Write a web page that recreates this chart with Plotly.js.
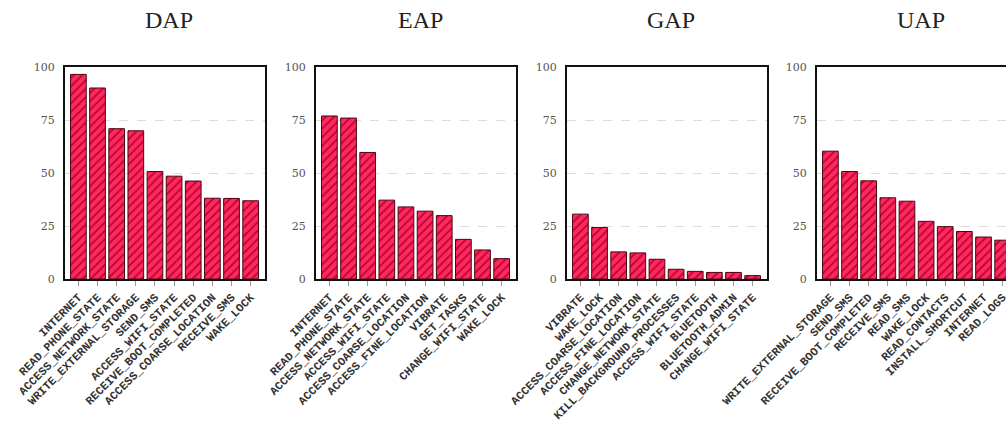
<!DOCTYPE html>
<html>
<head>
<meta charset="utf-8">
<script src="https://cdn.plot.ly/plotly-3.0.1.min.js"></script>
<style>
html,body{margin:0;padding:0;overflow:hidden;background:#fff;}
#chart{width:1040px;height:435px;}
</style>
</head>
<body>
<div id="chart"></div>
<script>
// ---- data ----
const panelTitles = ["DAP", "EAP", "GAP", "UAP"];

const dapLabels = ["INTERNET", "READ_PHONE_STATE", "ACCESS_NETWORK_STATE", "WRITE_EXTERNAL_STORAGE", "SEND_SMS", "ACCESS_WIFI_STATE", "RECEIVE_BOOT_COMPLETED", "ACCESS_COARSE_LOCATION", "RECEIVE_SMS", "WAKE_LOCK"];
const dapValues = [96.5, 90.1, 70.9, 69.9, 50.7, 48.5, 46.2, 38.1, 38.0, 36.9];

const eapLabels = ["INTERNET", "READ_PHONE_STATE", "ACCESS_NETWORK_STATE", "ACCESS_WIFI_STATE", "ACCESS_COARSE_LOCATION", "ACCESS_FINE_LOCATION", "VIBRATE", "GET_TASKS", "CHANGE_WIFI_STATE", "WAKE_LOCK"];
const eapValues = [76.9, 75.9, 59.7, 37.2, 34.0, 32.0, 29.9, 18.7, 13.7, 9.6];

const gapLabels = ["VIBRATE", "WAKE_LOCK", "ACCESS_COARSE_LOCATION", "ACCESS_FINE_LOCATION", "CHANGE_NETWORK_STATE", "KILL_BACKGROUND_PROCESSES", "ACCESS_WIFI_STATE", "BLUETOOTH", "BLUETOOTH_ADMIN", "CHANGE_WIFI_STATE"];
const gapValues = [30.6, 24.3, 12.8, 12.3, 9.3, 4.6, 3.6, 3.1, 3.1, 1.6];

const uapLabels = ["WRITE_EXTERNAL_STORAGE", "SEND_SMS", "RECEIVE_BOOT_COMPLETED", "RECEIVE_SMS", "READ_SMS", "WAKE_LOCK", "READ_CONTACTS", "INSTALL_SHORTCUT", "INTERNET", "READ_LOGS"];
const uapValues = [60.3, 50.7, 46.3, 38.3, 36.7, 27.2, 24.7, 22.4, 19.8, 18.3];

const yTicks = [0, 25, 50, 75, 100];

// ---- build ----
const W = 1040, H = 435;
const panels = [
  {labels: dapLabels, values: dapValues},
  {labels: eapLabels, values: eapValues},
  {labels: gapLabels, values: gapValues},
  {labels: uapLabels, values: uapValues}
];
const leftPx = [65, 316, 567, 817];
const widthPx = 200;
const yDom = [1 - 279 / H, 1 - 67 / H];

const data = [];
const layout = {
  width: W, height: H,
  margin: {l: 0, r: 0, t: 0, b: 0},
  paper_bgcolor: "#fff", plot_bgcolor: "#fff",
  showlegend: false,
  bargap: 0.18,
  annotations: []
};

panels.forEach((p, i) => {
  const n = i === 0 ? "" : String(i + 1);
  data.push({
    type: "bar",
    x: p.labels,
    y: p.values,
    xaxis: "x" + n,
    yaxis: "y" + n,
    marker: {
      color: "#fb2a5f",
      line: {color: "#4a0514", width: 1},
      pattern: {shape: "/", fgcolor: "#c0002e", bgcolor: "#fb2a5f", size: 6, solidity: 0.28}
    },
    hoverinfo: "x+y"
  });
  const d0 = leftPx[i] / W, d1 = (leftPx[i] + widthPx) / W;
  layout["xaxis" + n] = {
    domain: [d0, d1],
    anchor: "y" + n,
    type: "category",
    range: [-0.7, 9.75],
    showline: true, mirror: true, linecolor: "#111", linewidth: 2,
    showgrid: false, zeroline: false,
    ticks: "outside", ticklen: 5, tickwidth: 1, tickcolor: "#999",
    tickangle: -45,
    tickfont: {family: "Liberation Mono, DejaVu Sans Mono, monospace", size: 11.5, color: "#333", weight: "bold"},
    fixedrange: true
  };
  layout["yaxis" + n] = {
    domain: yDom,
    anchor: "x" + n,
    range: [0, 100],
    tickvals: yTicks,
    ticktext: yTicks.map(String),
    showline: true, mirror: true, linecolor: "#111", linewidth: 2,
    showgrid: true, gridcolor: "#dcdcdc", griddash: "dash", gridwidth: 1,
    zeroline: false,
    ticks: "", ticklabelstandoff: 6,
    tickfont: {family: "DejaVu Serif, serif", size: 11, color: "#555"},
    fixedrange: true
  };
  layout.annotations.push({
    text: panelTitles[i],
    xref: "paper", yref: "paper",
    x: (d0 + d1) / 2 + 4 / W, y: 1 - 20 / H,
    xanchor: "center", yanchor: "middle",
    showarrow: false,
    font: {family: "Liberation Serif, serif", size: 24, color: "#222"}
  });
});

Plotly.newPlot("chart", data, layout, {displayModeBar: false, staticPlot: true});
</script>
</body>
</html>
